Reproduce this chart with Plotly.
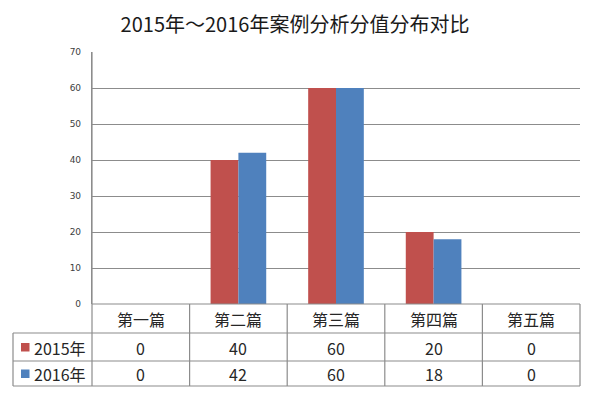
import plotly.graph_objects as go

categories = ["第一篇", "第二篇", "第三篇", "第四篇", "第五篇"]
series_names = ["2015年", "2016年"]
values_2015 = [0, 40, 60, 20, 0]
values_2016 = [0, 42, 60, 18, 0]
colors = ["#C0504D", "#4F81BD"]
y_ticks = [0, 10, 20, 30, 40, 50, 60, 70]
title_text = "2015年～2016年案例分析分值分布对比"

OFF = 8  # browser default body margin
W, H = 591 - OFF, 394 - OFF
L, R, T = 92 - OFF, 11, 52 - OFF
B = H - (304 - OFF)
pw = W - L - R
ph = H - T - B

def py(ypx):
    return (T + ph - (ypx - OFF)) / ph

def px(xpx):
    return ((xpx - OFF) - L) / pw

grid_col = "#8c8c8c"
cjk = "Noto Sans CJK SC"
txt_col = "#262626"

fig = go.Figure()
for name, vals, c in zip(series_names, [values_2015, values_2016], colors):
    fig.add_trace(go.Bar(x=categories, y=vals, name=name, marker_color=c,
                         marker_line_width=0))

shapes = []
row_lines = [304, 333, 361, 386]
shapes.append(dict(type="line", xref="paper", yref="paper", x0=0, x1=1,
                   y0=py(304), y1=py(304), line=dict(color=grid_col, width=1.2)))
for yl in row_lines[1:]:
    shapes.append(dict(type="line", xref="paper", yref="paper", x0=px(13), x1=1,
                       y0=py(yl), y1=py(yl), line=dict(color=grid_col, width=1.2)))
n = len(categories)
for i in range(1, n + 1):
    shapes.append(dict(type="line", xref="paper", yref="paper", x0=i / n, x1=i / n,
                       y0=py(304), y1=py(386), line=dict(color=grid_col, width=1.2)))
shapes.append(dict(type="line", xref="paper", yref="paper", x0=0, x1=0,
                   y0=1, y1=py(386), line=dict(color=grid_col, width=1.2)))
shapes.append(dict(type="line", xref="paper", yref="paper", x0=px(13), x1=px(13),
                   y0=py(333), y1=py(386), line=dict(color=grid_col, width=1.2)))

annotations = []
header_y = py(318.5)
row_mid = [347.5, 374]
row_y = [py(v) for v in row_mid]
for cat in categories:
    annotations.append(dict(x=cat, xref="x", y=header_y, yref="paper", text=cat,
                            showarrow=False, font=dict(family=cjk, size=16, color=txt_col),
                            xanchor="center", yanchor="middle"))
for r, (name, vals, c) in enumerate(zip(series_names, [values_2015, values_2016], colors)):
    for cat, v in zip(categories, vals):
        annotations.append(dict(x=cat, xref="x", y=row_y[r], yref="paper", text=str(v),
                                showarrow=False, font=dict(family=cjk, size=16, color=txt_col),
                                xanchor="center", yanchor="middle"))
    annotations.append(dict(x=px(32), xref="paper", y=row_y[r], yref="paper", text=name,
                            showarrow=False, font=dict(family=cjk, size=16, color=txt_col),
                            xanchor="left", yanchor="middle"))
    ymid = row_mid[r]
    shapes.append(dict(type="rect", xref="paper", yref="paper", x0=px(21), x1=px(29.5),
                       y0=py(ymid - 4.5), y1=py(ymid + 4), fillcolor=c, line_width=0))

fig.update_layout(
    width=W, height=H,
    margin=dict(l=L, r=R, t=T, b=B),
    paper_bgcolor="white", plot_bgcolor="white",
    title=dict(text=title_text, x=(295 - OFF) / W, xanchor="center",
               y=1 - (25 - OFF) / H, yanchor="middle",
               font=dict(family=cjk, size=20, color="#1a1a1a")),
    barmode="group", bargap=0.43, bargroupgap=0,
    showlegend=False,
    shapes=shapes, annotations=annotations,
    xaxis=dict(type="category", range=[-0.5, n - 0.5], showticklabels=False,
               showgrid=False, zeroline=False, showline=False, ticks=""),
    yaxis=dict(range=[0, 70], tickvals=y_ticks, showgrid=True, gridcolor=grid_col,
               gridwidth=1.2, zeroline=False, showline=True, linecolor=grid_col,
               linewidth=1.2, ticks="", ticklabelstandoff=8,
               tickfont=dict(family="DejaVu Sans", size=9, color="#404040")),
)

fig.write_html("out.html")
